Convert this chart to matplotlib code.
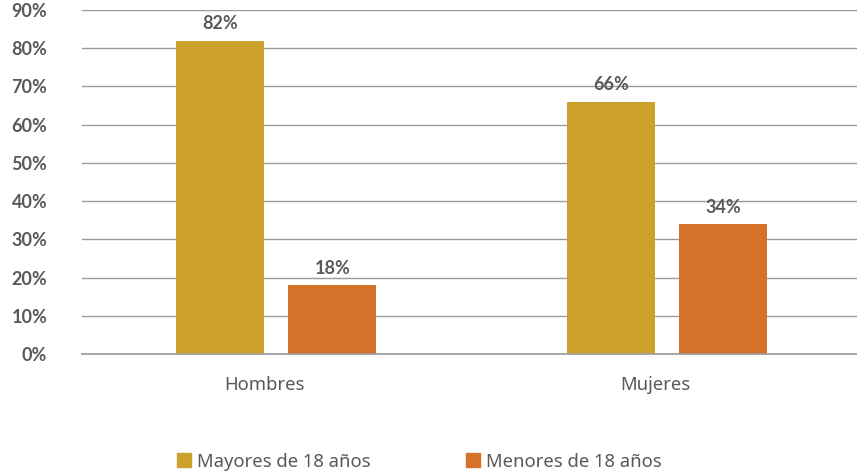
import numpy as np
import matplotlib
matplotlib.use("Agg")
import matplotlib.pyplot as plt
from matplotlib.patches import Patch

# data
categories = ["Hombres", "Mujeres"]
mayores = [82, 66]
menores = [18, 34]
series_names = ["Mayores de 18 años", "Menores de 18 años"]
y_ticks = [0, 10, 20, 30, 40, 50, 60, 70, 80, 90]

gold = "#CBA02B"
orange = "#D4722A"
text_gray = "#595959"

plt.rcParams["font.family"] = ["Noto Sans", "DejaVu Sans"]
bold = dict(family=["Lato", "DejaVu Sans"], weight="bold")

fig = plt.figure(figsize=(8.57, 4.72), dpi=100)
ax = fig.add_axes([82 / 857, 1 - 354 / 472, 1 - 82 / 857, 344 / 472])

x = np.arange(len(categories))
width = 0.225
off = 0.143
b1 = ax.bar(x - off, mayores, width, color=gold, zorder=3)
b2 = ax.bar(x + off, menores, width, color=orange, zorder=3)

for bars in (b1, b2):
    ax.bar_label(bars, labels=[f"{v}%" for v in bars.datavalues], padding=6,
                 fontsize=13, color=text_gray, **bold)

ax.set_ylim(0, 90)
ax.set_xlim(-0.497, 1.485)
ax.set_yticks(y_ticks)
ax.set_yticklabels([f"{t}%" for t in y_ticks], fontsize=13, color=text_gray, **bold)
ax.set_xticks(x - 0.03)
ax.set_xticklabels(categories, fontsize=13.3, color=text_gray)
ax.tick_params(axis="y", length=0, pad=25)
ax.tick_params(axis="x", length=0, pad=16)

ax.grid(axis="y", color="#9a9a9a", linewidth=1, zorder=0)
ax.axhline(0, color="#9a9a9a", linewidth=1.2, zorder=4, clip_on=False)
for s in ax.spines.values():
    s.set_visible(False)

handles = [Patch(color=gold), Patch(color=orange)]
fig.legend(handles, series_names, loc="center", bbox_to_anchor=(0.489, 0.022), ncol=2,
           frameon=False, fontsize=13.3, labelcolor=text_gray, columnspacing=5.15,
           handlelength=0.8, handleheight=0.8, handletextpad=0.3)

fig.savefig("out.png", dpi=100)
